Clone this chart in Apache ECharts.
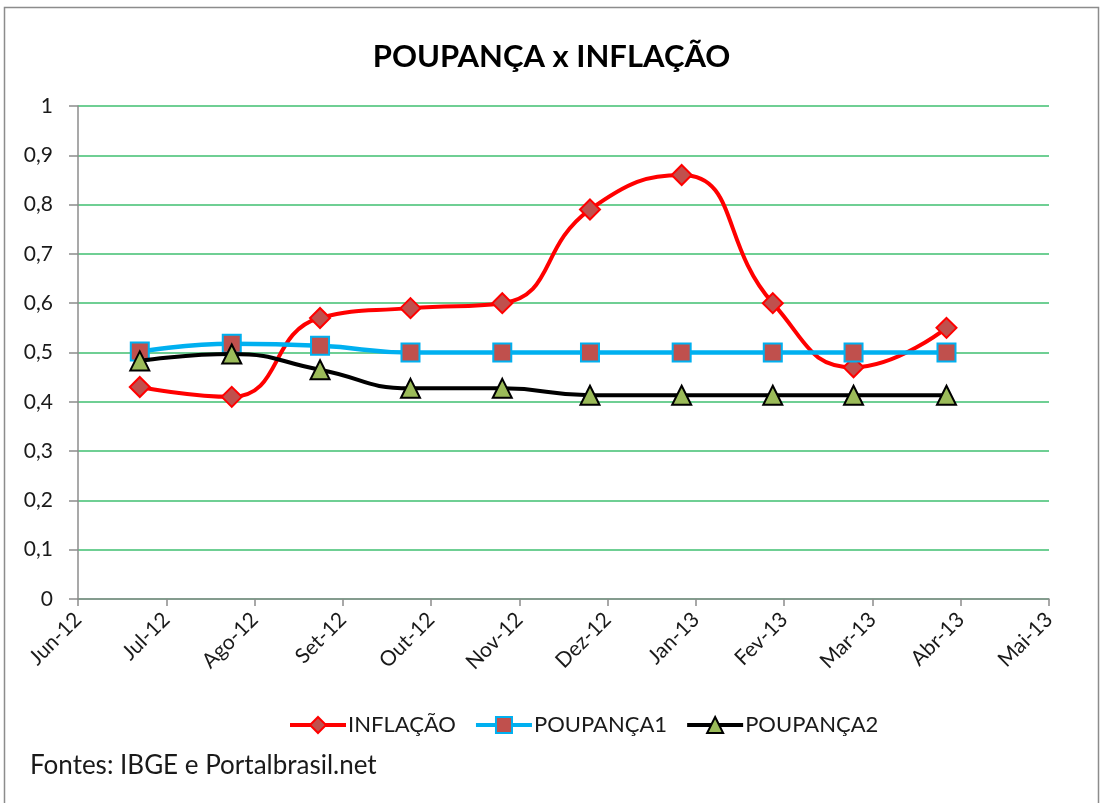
<!DOCTYPE html>
<html>
<head>
<meta charset="utf-8">
<script src="https://cdn.jsdelivr.net/npm/echarts@6/dist/echarts.min.js"></script>
<style>
html,body{margin:0;padding:0;background:#fff;}
#chart{width:1103px;height:803px;}
</style>
</head>
<body>
<div id="chart"></div>
<script>
// ---- data ----
var tickLabels = ['Jun-12','Jul-12','Ago-12','Set-12','Out-12','Nov-12','Dez-12','Jan-13','Fev-13','Mar-13','Abr-13','Mai-13'];
var dates = ['2012-06-22','2012-07-24','2012-08-24','2012-09-24','2012-10-26','2012-11-25','2012-12-27','2013-01-28','2013-02-23','2013-03-27'];
var inflacao  = [0.43, 0.41, 0.57, 0.59, 0.60, 0.79, 0.86, 0.60, 0.47, 0.55];
var poupanca1 = [0.502, 0.5175, 0.5135, 0.50, 0.50, 0.50, 0.50, 0.50, 0.50, 0.50];
var poupanca2 = [0.483, 0.497, 0.465, 0.4273, 0.4273, 0.4134, 0.4134, 0.4134, 0.4134, 0.4134];
var seriesNames = ['INFLAÇÃO', 'POUPANÇA1', 'POUPANÇA2'];

// convert a date to a month position on the axis (0 = Jun-12)
function monthPos(s) {
  var p = s.split('-').map(Number);
  var dim = new Date(p[0], p[1], 0).getDate();
  return (p[0] - 2012) * 12 + (p[1] - 6) + (p[2] - 1) / dim;
}
function pairs(vals) {
  return vals.map(function (v, i) { return [monthPos(dates[i]), v]; });
}

var FONT = 'Lato, "Open Sans", sans-serif';
var chart = echarts.init(document.getElementById('chart'), null, {renderer: 'canvas'});
chart.setOption({
  backgroundColor: '#ffffff',
  animation: false,
  title: {
    text: 'POUPANÇA x INFLAÇÃO',
    left: 'center',
    top: 36,
    textStyle: {fontFamily: FONT, fontSize: 31, fontWeight: 'bold', color: '#000'}
  },
  graphic: [
    {type: 'text', left: 30, top: 753, z: 10, style: {text: 'Fontes: IBGE e Portalbrasil.net', font: '26px ' + FONT, fill: '#1a1a1a'}},
    {type: 'rect', z: 20, shape: {x: 8, y: 776, width: 500, height: 27}, style: {fill: '#ffffff'}, silent: true},
    {type: 'rect', z: 30, shape: {x: 4.5, y: 7.5, width: 1094, height: 820}, style: {fill: 'none', stroke: '#8c8c8c', lineWidth: 1.5}, silent: true}
  ],
  legend: {
    data: seriesNames,
    left: 283,
    top: 709,
    itemWidth: 56,
    itemHeight: 20,
    itemGap: 18,
    lineStyle: {width: 4},
    textStyle: {fontFamily: FONT, fontSize: 22, color: '#1a1a1a', padding: [0, 0, 0, -3]}
  },
  grid: {left: 78, right: 54, top: 106, bottom: 204, containLabel: false},
  xAxis: {
    type: 'value',
    min: 0, max: 11, interval: 1,
    axisLine: {lineStyle: {color: '#8c8c8c', width: 1.5}},
    axisTick: {show: true, length: 7, lineStyle: {color: '#8c8c8c', width: 1.5}},
    splitLine: {show: false},
    axisLabel: {
      rotate: 45, margin: 17,
      fontFamily: FONT, fontSize: 21, color: '#1a1a1a',
      formatter: function (v) { return tickLabels[Math.round(v)] || ''; }
    }
  },
  yAxis: {
    type: 'value',
    min: 0, max: 1, interval: 0.1,
    axisLine: {show: true, lineStyle: {color: '#8c8c8c', width: 1.5}},
    axisTick: {show: true, length: 9, lineStyle: {color: '#8c8c8c', width: 1.5}},
    splitLine: {lineStyle: {color: '#3fbf70', width: 1.5}},
    axisLabel: {
      margin: 25,
      fontFamily: FONT, fontSize: 21, color: '#1a1a1a',
      formatter: function (v) { return (Math.round(v * 10) / 10).toString().replace('.', ','); }
    }
  },
  series: [
    {
      name: seriesNames[0], type: 'line', smooth: 0.5,
      data: pairs(inflacao),
      symbol: 'diamond', symbolSize: 20,
      lineStyle: {color: '#ff0000', width: 4},
      itemStyle: {color: '#c0504d', borderColor: '#ff0000', borderWidth: 2},
      z: 3
    },
    {
      name: seriesNames[1], type: 'line', smooth: 0.5,
      data: pairs(poupanca1),
      symbol: 'rect', symbolSize: 18,
      lineStyle: {color: '#00b0f0', width: 4.5},
      itemStyle: {color: '#c0504d', borderColor: '#00b0f0', borderWidth: 2},
      z: 4
    },
    {
      name: seriesNames[2], type: 'line', smooth: 0.5,
      data: pairs(poupanca2),
      symbol: 'triangle', symbolSize: 19,
      lineStyle: {color: '#000000', width: 4},
      itemStyle: {color: '#9bbb59', borderColor: '#000000', borderWidth: 2},
      z: 5
    }
  ]
});
</script>
</body>
</html>
